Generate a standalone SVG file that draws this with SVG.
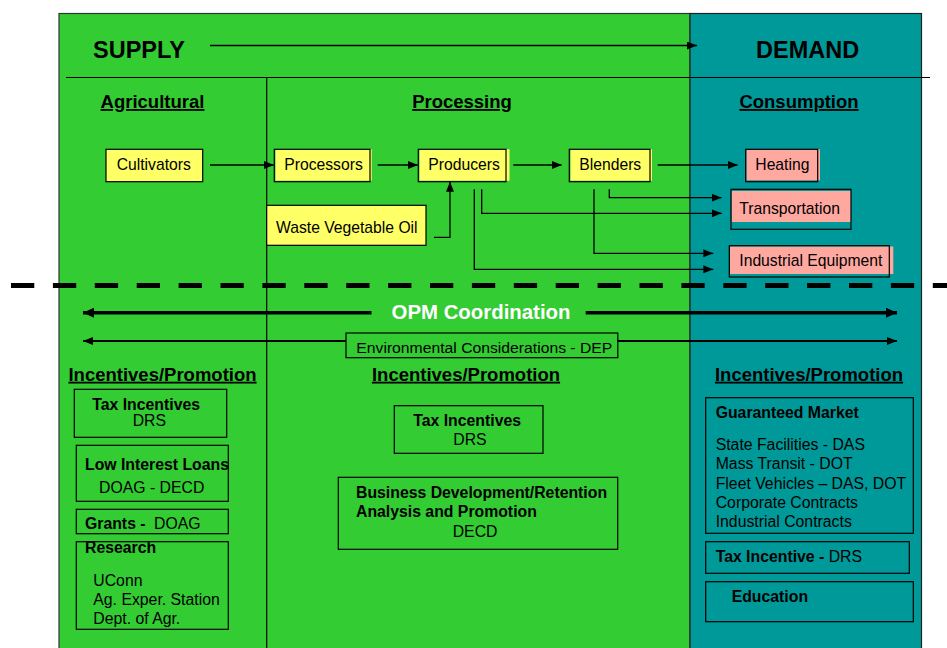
<svg xmlns="http://www.w3.org/2000/svg" width="947" height="648" viewBox="0 0 947 648">
<defs>
<style>
text{font-family:"Liberation Sans",Arial,sans-serif;fill:#000}
.h1{font-size:23.5px;font-weight:bold}
.h2{font-size:18.5px;font-weight:bold;text-decoration:underline}
.n{font-size:15.7px}
.b{font-size:15.8px;font-weight:bold}
.r{font-size:15.8px}
.yel{fill:#FFFF66}
.pink{fill:#FFA8A0}
.bd{fill:none;stroke:#000;stroke-width:1.2}
.ln{fill:none;stroke:#000;stroke-width:1.3}
.bx{fill:none;stroke:#000;stroke-width:1.2}
</style>
<marker id="ah" markerUnits="userSpaceOnUse" markerWidth="10" markerHeight="8" refX="10" refY="4" orient="auto-start-reverse">
<path d="M0,0 L10,4 L0,8 z" fill="#000"/>
</marker>
<marker id="ahb" markerUnits="userSpaceOnUse" markerWidth="11" markerHeight="10" refX="11" refY="5" orient="auto-start-reverse">
<path d="M0,0 L11,5 L0,10 z" fill="#000"/>
</marker>
</defs>
<rect width="947" height="648" fill="#fff"/>
<g id="panels">
<rect x="59" y="13.5" width="631" height="640" fill="#33CC33" stroke="#333" stroke-width="1.2"/>
<rect x="690" y="13.5" width="231.5" height="640" fill="#009999" stroke="#222" stroke-width="1.2"/>
<line x1="66" y1="77.5" x2="930" y2="77.5" stroke="#000" stroke-width="1.2"/>
<line x1="266.7" y1="77.5" x2="266.7" y2="648" stroke="#000" stroke-width="1.2"/>
<line x1="11" y1="285.5" x2="947" y2="285.5" stroke="#000" stroke-width="5" stroke-dasharray="23.3 18.6"/>
</g>
<g id="headings">
<text class="h1" x="93" y="58">SUPPLY</text>
<text class="h1" x="756" y="58">DEMAND</text>
<text class="h2" x="152.5" y="108" text-anchor="middle">Agricultural</text>
<text class="h2" x="462" y="108" text-anchor="middle">Processing</text>
<text class="h2" x="799" y="108" text-anchor="middle">Consumption</text>
</g>
<g id="connectors">
<line class="ln" x1="210" y1="45.5" x2="697" y2="45.5" marker-end="url(#ah)"/>
<line class="ln" x1="210" y1="165" x2="274" y2="165" marker-end="url(#ah)"/>
<line class="ln" x1="377.7" y1="165" x2="418" y2="165" marker-end="url(#ah)"/>
<line class="ln" x1="513.3" y1="165" x2="561.7" y2="165" marker-end="url(#ah)"/>
<line class="ln" x1="657.7" y1="165" x2="737.7" y2="165" marker-end="url(#ah)"/>
<polyline class="ln" points="434,237.3 450,237.3 450,181.7" marker-end="url(#ah)"/>
<polyline class="ln" points="481.7,189.3 481.7,213.3 721.7,213.3" marker-end="url(#ah)"/>
<polyline class="ln" points="474.3,189.3 474.3,269.3 713.3,269.3" marker-end="url(#ah)"/>
<polyline class="ln" points="609.3,189.3 609.3,197.7 721.7,197.7" marker-end="url(#ah)"/>
<polyline class="ln" points="594,189.3 594,253.3 713.3,253.3" marker-end="url(#ah)"/>
<line x1="83" y1="312.7" x2="371.5" y2="312.7" stroke="#000" stroke-width="3.5" marker-start="url(#ahb)"/>
<line x1="585.7" y1="312.7" x2="897" y2="312.7" stroke="#000" stroke-width="3.5" marker-end="url(#ahb)"/>
<line x1="83" y1="341" x2="897" y2="341" stroke="#000" stroke-width="1.8" marker-start="url(#ah)" marker-end="url(#ah)"/>
</g>
<g id="opm">
<text x="481" y="318.5" text-anchor="middle" style="font-size:20.4px;font-weight:bold;fill:#fff">OPM Coordination</text>
</g>
<g id="env">
<rect x="346" y="333" width="271.8" height="24.7" fill="#33CC33" stroke="#000" stroke-width="1.2"/>
<text x="356.3" y="353.3" style="font-size:15.2px" textLength="256" lengthAdjust="spacingAndGlyphs">Environmental Considerations - DEP</text>
</g>
<g id="cultivators">
<rect class="yel" x="106" y="149.3" width="96.7" height="32.4"/>
<rect class="bd" x="106" y="149.3" width="96.7" height="32.4"/>
<text class="n" x="116.7" y="170">Cultivators</text>
</g>
<g id="processors">
<rect class="yel" x="275.5" y="149.3" width="96.2" height="31.4"/>
<rect class="bd" x="274.3" y="149.3" width="95.7" height="32.4"/>
<text class="n" x="284.3" y="170">Processors</text>
</g>
<g id="producers">
<rect class="yel" x="419.5" y="149.3" width="90" height="31.4"/>
<rect class="bd" x="418.3" y="149.3" width="87.7" height="32.4"/>
<text class="n" x="428.3" y="170">Producers</text>
</g>
<g id="blenders">
<rect class="yel" x="570.5" y="149.3" width="81.5" height="31.4"/>
<rect class="bd" x="569.3" y="149.3" width="80.7" height="32.4"/>
<text class="n" x="579.3" y="170">Blenders</text>
</g>
<g id="waste-vegetable-oil">
<rect class="yel" x="266.7" y="205.3" width="159.3" height="40"/>
<rect class="bd" x="266.7" y="205.3" width="159.3" height="40"/>
<text class="n" x="276" y="233.3">Waste Vegetable Oil</text>
</g>
<g id="heating">
<rect class="pink" x="746.5" y="149.3" width="73.5" height="31"/>
<rect class="bd" x="745.7" y="149.3" width="72" height="32.4"/>
<text class="n" x="755.3" y="170">Heating</text>
</g>
<g id="transportation">
<rect class="pink" x="731.5" y="191" width="119.5" height="31"/>
<rect class="bd" x="731" y="189.3" width="120" height="40"/>
<text class="n" x="739.3" y="214">Transportation</text>
</g>
<g id="industrial-equipment">
<rect class="pink" x="730" y="246.5" width="163.3" height="27.5"/>
<rect class="bd" x="729.3" y="245.7" width="160" height="31.3"/>
<text class="n" x="739.3" y="266">Industrial Equipment</text>
</g>
<g id="incentives-agri">
<text class="h2" x="162.5" y="380.7" text-anchor="middle">Incentives/Promotion</text>
</g>
<g id="agri-tax">
<rect class="bx" x="74.3" y="389.3" width="152.4" height="48"/>
<text class="b" x="92.3" y="410">Tax Incentives</text>
<text class="r" x="132.7" y="426">DRS</text>
</g>
<g id="agri-loans">
<rect class="bx" x="76.3" y="445.3" width="152" height="56"/>
<text class="b" x="85" y="470">Low Interest Loans</text>
<text class="r" x="99" y="493.3">DOAG - DECD</text>
</g>
<g id="agri-grants">
<rect class="bx" x="76.3" y="509.3" width="152" height="24.4"/>
<text x="85" y="529.3"><tspan class="b">Grants - </tspan><tspan class="r" dx="4">DOAG</tspan></text>
</g>
<g id="agri-research">
<rect class="bx" x="76.3" y="541.7" width="152" height="87.6"/>
<text class="b" x="85" y="553.3">Research</text>
<text class="r" x="93.3" y="586">UConn</text>
<text class="r" x="93.3" y="605">Ag. Exper. Station</text>
<text class="r" x="93.3" y="623.7">Dept. of Agr.</text>
</g>
<g id="incentives-proc">
<text class="h2" x="466" y="380.7" text-anchor="middle">Incentives/Promotion</text>
</g>
<g id="proc-tax">
<rect class="bx" x="394.3" y="405.7" width="148.7" height="47.6"/>
<text class="b" x="413.3" y="425.7">Tax Incentives</text>
<text class="r" x="453.3" y="445">DRS</text>
</g>
<g id="proc-business">
<rect class="bx" x="338.3" y="477.3" width="279.4" height="72"/>
<text class="b" x="356" y="497.7">Business Development/Retention</text>
<text class="b" x="356" y="516.7">Analysis and Promotion</text>
<text class="r" x="452.7" y="536.7">DECD</text>
</g>
<g id="incentives-demand">
<text class="h2" x="809" y="380.7" text-anchor="middle">Incentives/Promotion</text>
</g>
<g id="guaranteed-market">
<rect class="bx" x="705.7" y="397.7" width="207.6" height="135.6"/>
<text class="b" x="715.7" y="417.7">Guaranteed Market</text>
<text class="r" x="715.7" y="450">State Facilities - DAS</text>
<text class="r" x="715.7" y="469">Mass Transit - DOT</text>
<text class="r" x="715.7" y="488.7">Fleet Vehicles – DAS, DOT</text>
<text class="r" x="715.7" y="507.7">Corporate Contracts</text>
<text class="r" x="715.7" y="526.7">Industrial Contracts</text>
</g>
<g id="demand-tax">
<rect class="bx" x="705.7" y="541.7" width="203.6" height="31.6"/>
<text x="715.7" y="561.7"><tspan class="b">Tax Incentive - </tspan><tspan class="r">DRS</tspan></text>
</g>
<g id="education">
<rect class="bx" x="705.7" y="581.7" width="207.6" height="40"/>
<text class="b" x="731.7" y="601.7">Education</text>
</g>
</svg>
